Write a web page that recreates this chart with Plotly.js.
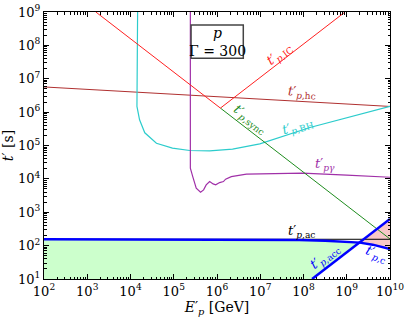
<!DOCTYPE html>
<html>
<head>
<meta charset="utf-8">
<script src="https://cdn.plot.ly/plotly-3.0.1.min.js"></script>
<style>
  html, body { margin: 0; padding: 0; background: #fff; }
  #chart { width: 407px; height: 321px; }
</style>
</head>
<body>
<div id="chart"></div>
<script>
// timescales (E'_p in GeV, t' in s)
const icE = [1.58e3, 1.2e6, 9.12e8];
const icT = [1e9, 1.32e6, 1e9];

const syncE = [1.2e6, 1e10];
const syncT = [1.32e6, 1.58e2];

const hcE = [1e2, 1e10];
const hcT = [5.68e6, 1.48e6];

const bhE = [1.46e4, 1.43e4, 1.41e4, 1.62e4, 2.14e4, 3.98e4, 9.33e4, 2.34e5, 6.76e5, 2.29e6, 9.77e6, 1.41e8, 1e10];
const bhT = [1e9, 1e7, 1.48e6, 5.89e5, 2.40e5, 1.17e5, 8.32e4, 7.08e4, 6.92e4, 7.76e4, 1.12e5, 3.47e5, 1.48e6];

const pgE = [2.42e5, 2.42e5, 2.75e5, 3.31e5, 4.17e5, 4.90e5, 5.62e5, 6.76e5, 8.13e5, 9.33e5, 1.15e6, 1.41e6, 1.58e6, 2.14e6, 4.79e6, 9.77e6, 9.55e7, 1e9, 1e10];
const pgT = [1e9, 2.09e4, 1.17e4, 5.25e3, 3.98e3, 4.68e3, 6.61e3, 8.32e3, 7.08e3, 6.61e3, 7.76e3, 8.32e3, 9.77e3, 1.17e4, 1.38e4, 1.41e4, 1.48e4, 1.29e4, 1.12e4];

const acE = [1e2, 1e10];
const acT = [155, 155];

const cE = [1e2, 1e7, 7.94e7, 3.16e8, 1e9, 2e9, 3.98e9, 1e10];
const cT = [155, 153, 148, 141, 132, 123, 107, 79.4];

const accE = [1.58e8, 1e10];
const accT = [10, 631];

// where t'_p,acc meets t'_p,c
const crossE = 1.95e9;
const crossT = 123;

const xTickVals = [1e2, 1e3, 1e4, 1e5, 1e6, 1e7, 1e8, 1e9, 1e10];
const xTickText = ["10<sup>2</sup>", "10<sup>3</sup>", "10<sup>4</sup>", "10<sup>5</sup>", "10<sup>6</sup>", "10<sup>7</sup>", "10<sup>8</sup>", "10<sup>9</sup>", "10<sup>10</sup>"];
const yTickVals = [1e1, 1e2, 1e3, 1e4, 1e5, 1e6, 1e7, 1e8, 1e9];
const yTickText = ["10<sup>1</sup>", "10<sup>2</sup>", "10<sup>3</sup>", "10<sup>4</sup>", "10<sup>5</sup>", "10<sup>6</sup>", "10<sup>7</sup>", "10<sup>8</sup>", "10<sup>9</sup>"];

function minorVals(lo, hi) {
  let v = [];
  for (let p = lo; p < hi; p++)
    for (let k = 2; k <= 9; k++) v.push(k * Math.pow(10, p));
  return v;
}

// green region: under t'_p,c, left of t'_p,acc
let below = cE.map((e, i) => [e, cT[i]]).filter(d => d[0] < crossE).reverse();
let greenX = [1e2, accE[0], crossE].concat(below.map(d => d[0]));
let greenY = [10, accT[0], crossT].concat(below.map(d => d[1]));

// pink region: between t'_p,c and t'_p,acc, right of the crossing
let above = cE.map((e, i) => [e, cT[i]]).filter(d => d[0] > crossE).reverse();
let pinkX = [crossE, accE[1]].concat(above.map(d => d[0]), [crossE]);
let pinkY = [crossT, accT[1]].concat(above.map(d => d[1]), [crossT]);

function line(x, y, color, width) {
  return { x: x, y: y, mode: 'lines', type: 'scatter', line: { color: color, width: width }, hoverinfo: 'skip' };
}

let traces = [
  { x: greenX, y: greenY, mode: 'lines', fill: 'toself', fillcolor: '#ccffcc', line: { width: 0 }, hoverinfo: 'skip' },
  { x: pinkX, y: pinkY, mode: 'lines', fill: 'toself', fillcolor: '#f8c8c8', line: { width: 0 }, hoverinfo: 'skip' },
  line(hcE, hcT, '#b03030', 1),
  line(bhE, bhT, '#2ccccc', 1.2),
  line(pgE, pgT, '#a030a8', 1.2),
  line(syncE, syncT, '#1e8c1e', 1),
  line(icE, icT, '#ff2020', 1),
  line(acE, acT, '#000000', 1),
  line(cE, cT, '#0000ff', 2.5),
  line(accE, accT, '#0000ff', 2.5)
];

const serif = 'DejaVu Serif';

function lbl(text, logx, logy, color, angle) {
  return { text: text, x: logx, y: logy, xref: 'x', yref: 'y', showarrow: false,
    xanchor: 'center', yanchor: 'middle',
    textangle: angle, font: { family: serif, size: 13, color: color } };
}

const axisBase = {
  type: 'log', showgrid: false, zeroline: false, showline: true, linecolor: '#000', linewidth: 1,
  mirror: 'allticks', ticks: 'inside', ticklen: 5, tickcolor: '#000', tickmode: 'array',
  tickfont: { family: serif, size: 13, color: '#000' }
};

const layout = {
  width: 407, height: 321,
  margin: { l: 44, r: 17, t: 12, b: 42 },
  paper_bgcolor: '#fff', plot_bgcolor: '#fff',
  showlegend: false,
  font: { family: serif, color: '#000' },
  xaxis: Object.assign({}, axisBase, {
    range: [2, 10], tickvals: xTickVals, ticktext: xTickText,
    minor: { ticks: 'inside', ticklen: 2.5, tickcolor: '#000', tickvals: minorVals(2, 10) },
    title: { text: '<i>E</i>′<sub><i>p</i></sub> [GeV]', font: { family: serif, size: 14 }, standoff: 2 }
  }),
  yaxis: Object.assign({}, axisBase, {
    range: [1, 9], tickvals: yTickVals, ticktext: yTickText,
    minor: { ticks: 'inside', ticklen: 2.5, tickcolor: '#000', tickvals: minorVals(1, 9) },
    title: { text: '<i>t</i>′ [s]', font: { family: serif, size: 14 }, standoff: 4 }
  }),
  shapes: [
    { type: 'rect', xref: 'paper', yref: 'paper', x0: 0.425, x1: 0.576, y0: 0.827, y1: 0.951,
      line: { color: '#444', width: 1.5 }, fillcolor: '#fff' }
  ],
  annotations: [
    { text: '<i>p</i><br>Γ = 300', xref: 'paper', yref: 'paper', x: 0.5, y: 0.889,
      xanchor: 'center', yanchor: 'middle', showarrow: false,
      font: { family: serif, size: 14, color: '#000' } },
    lbl('<i>t</i>′<sub><i>p</i>,IC</sub>', 7.45, 7.72, '#ff2020', -37),
    lbl('<i>t</i>′<sub><i>p</i>,hc</sub>', 7.96, 6.58, '#b03030', 3),
    lbl('<i>t</i>′<sub><i>p</i>,BH</sub>', 7.87, 5.56, '#2ccccc', -17),
    lbl('<i>t</i>′<sub><i>p</i>,sync</sub>', 6.76, 5.77, '#1e8c1e', 37),
    lbl('<i>t</i>′<sub><i>pγ</i></sub>', 8.49, 4.42, '#a030a8', 0),
    lbl('<i>t</i>′<sub><i>p</i>,ac</sub>', 7.96, 2.41, '#000000', 0),
    lbl('<i>t</i>′<sub><i>p</i>,acc</sub>', 8.52, 1.66, '#0000ff', -37),
    lbl('<i>t</i>′<sub><i>p</i>,c</sub>', 9.68, 1.72, '#0000ff', 22)
  ]
};

Plotly.newPlot('chart', traces, layout, { staticPlot: true, displayModeBar: false });
</script>
</body>
</html>
